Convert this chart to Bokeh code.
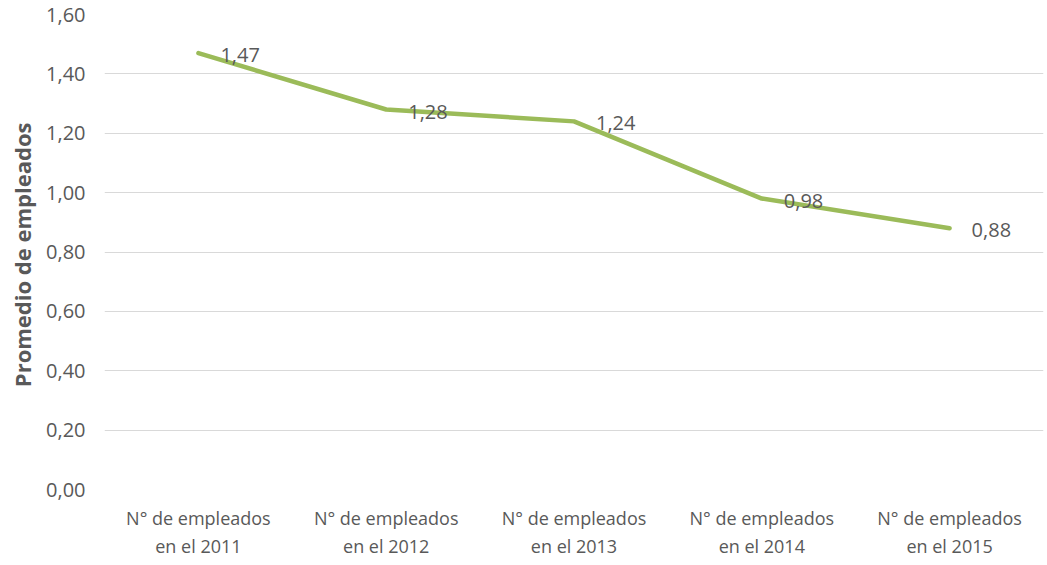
from bokeh.plotting import figure
from bokeh.models import ColumnDataSource, FixedTicker, FactorRange, Range1d
from bokeh.core.properties import value
from bokeh.embed import file_html
from bokeh.resources import INLINE

categories = ["N° de empleados\nen el 2011", "N° de empleados\nen el 2012",
              "N° de empleados\nen el 2013", "N° de empleados\nen el 2014",
              "N° de empleados\nen el 2015"]
values = [1.47, 1.28, 1.24, 0.98, 0.88]
y_ticks = [0.0, 0.2, 0.4, 0.6, 0.8, 1.0, 1.2, 1.4, 1.6]
y_tick_labels = ["0,00", "0,20", "0,40", "0,60", "0,80", "1,00", "1,20", "1,40", "1,60"]
y_title = "Promedio  de empleados"

FONT = "Open Sans"
GRAY = "#595959"

src = ColumnDataSource(dict(cat=categories, val=values,
                            lab=[f"{v:.2f}".replace(".", ",") for v in values]))

p = figure(frame_width=939, frame_height=475, x_range=FactorRange(*categories),
           y_range=Range1d(0, 1.6), output_backend="svg", toolbar_location=None,
           min_border_left=104, min_border_right=3, min_border_top=14, min_border_bottom=0)
p.outline_line_color = None
p.background_fill_color = "white"
p.border_fill_color = "white"

p.line("cat", "val", source=src, line_color="#9BBB59", line_width=4.5, line_cap="round")
p.text("cat", "val", text="lab", source=src, x_offset=22, y_offset=2, text_align="left",
       text_baseline="middle", text_font=value(FONT), text_font_size="20px",
       text_color=GRAY)

p.xgrid.grid_line_color = None
p.ygrid.grid_line_color = "#D9D9D9"
p.ygrid.grid_line_width = 1
p.yaxis.ticker = FixedTicker(ticks=y_ticks)
p.yaxis.major_label_overrides = {t: l for t, l in zip(y_ticks, y_tick_labels)}

for ax in (p.xaxis[0], p.yaxis[0]):
    ax.axis_line_color = None
    ax.major_tick_line_color = None
    ax.minor_tick_line_color = None
    ax.major_tick_out = 0
    ax.major_tick_in = 0
    ax.major_label_text_font = FONT
    ax.major_label_text_color = GRAY

p.yaxis.major_label_text_font_size = "20px"
p.xaxis.major_label_text_font_size = "18px"

p.yaxis.major_label_standoff = 19
p.yaxis.axis_label = y_title
p.yaxis.axis_label_text_font = FONT
p.yaxis.axis_label_text_font_size = "22px"
p.yaxis.axis_label_text_font_style = "bold"
p.yaxis.axis_label_text_color = GRAY
p.yaxis.axis_label_standoff = 6

p.xaxis.major_label_standoff = 16

open("out.html", "w").write(file_html(p, INLINE))
